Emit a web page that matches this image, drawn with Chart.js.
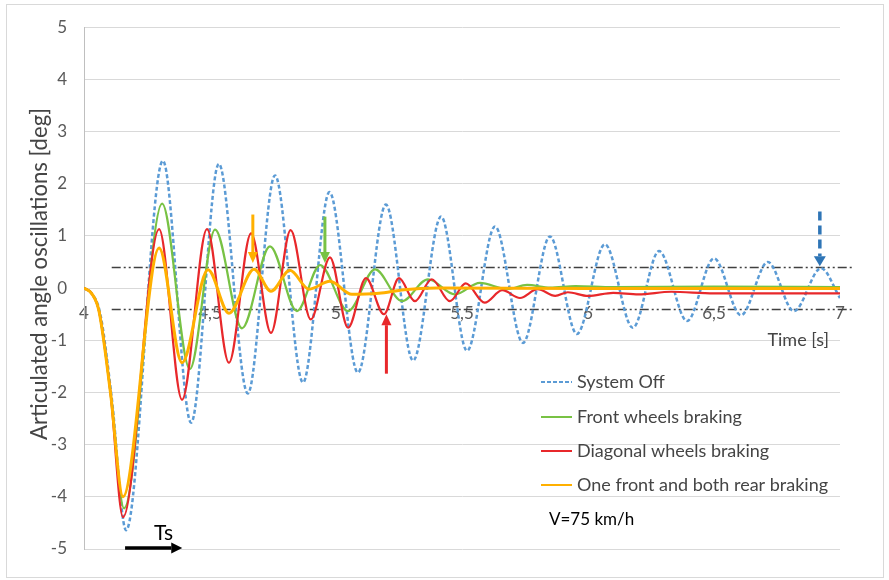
<!DOCTYPE html>
<html><head><meta charset="utf-8">
<script src="https://cdn.jsdelivr.net/npm/chart.js@4.4.0/dist/chart.umd.min.js"></script>
<style>html,body{margin:0;padding:0;background:#fff;}canvas{display:block}</style>
</head><body>
<canvas id="c" width="889" height="580"></canvas>
<script>
// ---- Data ----
const seriesLabels = ['System Off', 'Front wheels braking', 'Diagonal wheels braking', 'One front and both rear braking'];

const timeSystemOff  = [4, 4.03, 4.065, 4.11, 4.167, 4.313, 4.425, 4.535, 4.65, 4.758, 4.869, 4.974, 5.087, 5.198, 5.306, 5.417, 5.52, 5.631, 5.742, 5.849, 5.956, 6.067, 6.178, 6.282, 6.393, 6.5, 6.607, 6.714, 6.817, 6.925, 7.0];
const angleSystemOff = [0, -0.1, -0.5, -2.1, -4.64, 2.44, -2.58, 2.38, -2.02, 2.16, -1.81, 1.84, -1.62, 1.60, -1.39, 1.37, -1.20, 1.18, -1.05, 0.99, -0.88, 0.84, -0.76, 0.71, -0.63, 0.57, -0.52, 0.50, -0.44, 0.38, -0.19];

const timeFront  = [4, 4.03, 4.06, 4.105, 4.159, 4.31, 4.42, 4.52, 4.627, 4.738, 4.845, 4.937, 5.048, 5.155, 5.262, 5.365, 5.472, 5.571, 5.68, 5.758, 5.85, 5.95, 6.1, 6.5, 7.0];
const angleFront = [0, -0.1, -0.45, -2.0, -4.22, 1.62, -1.55, 1.12, -0.77, 0.80, -0.44, 0.44, -0.44, 0.36, -0.25, 0.17, -0.12, 0.10, -0.02, 0.06, 0.01, 0.04, 0.02, 0.03, 0.02];

const timeDiagonal  = [4, 4.03, 4.06, 4.105, 4.155, 4.298, 4.389, 4.488, 4.575, 4.663, 4.742, 4.82, 4.9, 4.976, 5.048, 5.119, 5.19, 5.25, 5.313, 5.38, 5.452, 5.515, 5.59, 5.66, 5.73, 5.80, 5.87, 5.92, 6.0, 6.1, 6.2, 6.33, 6.5, 7.0];
const angleDiagonal = [0, -0.1, -0.45, -2.0, -4.39, 1.13, -2.14, 1.13, -1.43, 1.05, -0.86, 1.11, -0.6, 0.59, -0.76, 0.19, -0.50, 0.19, -0.25, 0.17, -0.25, 0.09, -0.28, -0.04, -0.19, -0.02, -0.15, -0.08, -0.15, -0.09, -0.12, -0.07, -0.10, -0.10];

const timeOneFront  = [4, 4.03, 4.06, 4.105, 4.155, 4.298, 4.389, 4.492, 4.575, 4.675, 4.742, 4.817, 4.893, 4.976, 5.063, 5.17, 5.27, 5.4, 6.0, 7.0];
const angleOneFront = [0, -0.1, -0.45, -2.0, -4.0, 0.77, -1.43, 0.35, -0.48, 0.36, -0.06, 0.34, -0.02, 0.13, -0.12, -0.10, -0.03, 0.0, -0.01, -0.01];

const xTicks = [4, 4.5, 5, 5.5, 6, 6.5, 7];
const yTicks = [-5, -4, -3, -2, -1, 0, 1, 2, 3, 4, 5];

// threshold band (dash-dot lines)
const bandLevels = [0.4, -0.4];
const bandStart = 4.11, bandEnd = 7.05;

// marker arrows: x, from y, to y
const arrowX    = [4.67, 4.956, 5.20, 6.92];
const arrowFrom = [1.41, 1.37, -1.64, 1.47];
const arrowTo   = [0.48, 0.48, -0.50, 0.42];

// Ts arrow
const tsStart = 4.163, tsEnd = 4.39, tsLevel = -4.98;

// ---- styles ----
const colors = ['#5B9BD5', '#78C244', '#E8282B', '#FFB000'];
const arrowColors = ['#FFB000', '#78C244', '#E8282B', '#2E75B6'];
const FONT = 'Lato, "Open Sans", sans-serif';
const GREY = '#595959';
const TEXT = '#454545';

function mk(i, t, v, width, dash, order) {
  return {
    label: seriesLabels[i],
    data: t.map((x, k) => ({x: x, y: v[k]})),
    borderColor: colors[i], backgroundColor: colors[i],
    borderWidth: width, borderDash: dash, pointRadius: 0,
    cubicInterpolationMode: 'monotone', fill: false, order: order
  };
}

function arrow(ctx, x1, y1, x2, y2, color, width, headL, headW, dash) {
  const a = Math.atan2(y2 - y1, x2 - x1);
  const bx = x2 - headL * Math.cos(a), by = y2 - headL * Math.sin(a);
  ctx.save();
  ctx.strokeStyle = color; ctx.fillStyle = color; ctx.lineWidth = width;
  ctx.setLineDash(dash || []);
  ctx.beginPath(); ctx.moveTo(x1, y1); ctx.lineTo(bx, by); ctx.stroke();
  ctx.setLineDash([]);
  ctx.beginPath();
  ctx.moveTo(x2, y2);
  ctx.lineTo(bx + headW / 2 * Math.sin(a), by - headW / 2 * Math.cos(a));
  ctx.lineTo(bx - headW / 2 * Math.sin(a), by + headW / 2 * Math.cos(a));
  ctx.closePath(); ctx.fill();
  ctx.restore();
}

const extras = {
  id: 'extras',
  beforeDraw(chart) {
    const ctx = chart.ctx;
    ctx.save();
    ctx.strokeStyle = '#D9D9D9'; ctx.lineWidth = 1;
    ctx.strokeRect(6.5, 4.5, 877, 573);
    ctx.restore();
  },
  beforeDatasetsDraw(chart) {
    const ctx = chart.ctx, xs = chart.scales.x, ys = chart.scales.y;
    ctx.save();
    ctx.strokeStyle = '#404040'; ctx.lineWidth = 1.5;
    ctx.setLineDash([9, 3, 2, 3, 2, 3]);
    bandLevels.forEach(l => {
      const py = Math.round(ys.getPixelForValue(l)) + 0.5;
      ctx.beginPath();
      ctx.moveTo(xs.getPixelForValue(bandStart), py);
      ctx.lineTo(xs.getPixelForValue(bandEnd), py);
      ctx.stroke();
    });
    ctx.restore();
  },
  afterDraw(chart) {
    const ctx = chart.ctx, xs = chart.scales.x, ys = chart.scales.y;
    arrowX.forEach((x, i) => {
      const px = xs.getPixelForValue(x);
      const dashed = i === 3;
      arrow(ctx, px, ys.getPixelForValue(arrowFrom[i]), px, ys.getPixelForValue(arrowTo[i]),
        arrowColors[i], dashed ? 3.5 : 3, dashed ? 10 : 11, dashed ? 12 : 10, dashed ? [9, 5] : null);
    });
    const tsy = ys.getPixelForValue(tsLevel);
    arrow(ctx, xs.getPixelForValue(tsStart), tsy, xs.getPixelForValue(tsEnd), tsy, '#000', 3.5, 11, 11);
    ctx.save();
    ctx.fillStyle = '#000'; ctx.font = '21px ' + FONT; ctx.textBaseline = 'alphabetic'; ctx.textAlign = 'left';
    ctx.fillText('Ts', 154, 540);
    // y-axis title, sized to the reference span
    const title = 'Articulated angle oscillations [deg]';
    ctx.font = '18px ' + FONT;
    const w = ctx.measureText(title).width;
    const fs = 18 * 332 / w;
    ctx.fillStyle = TEXT; ctx.font = fs.toFixed(2) + 'px ' + FONT;
    ctx.translate(40, 274); ctx.rotate(-Math.PI / 2);
    ctx.textAlign = 'center'; ctx.textBaseline = 'middle';
    ctx.fillText(title, 0, 0);
    ctx.restore();
    ctx.save();
    ctx.fillStyle = TEXT; ctx.font = '18px ' + FONT; ctx.textAlign = 'right'; ctx.textBaseline = 'middle';
    ctx.fillText('Time [s]', 829, 340);
    const rows = [382, 417, 451, 485];
    ctx.font = '18px ' + FONT; ctx.textAlign = 'left';
    chart.data.datasets.forEach((d, i) => {
      ctx.save();
      ctx.strokeStyle = d.borderColor; ctx.lineWidth = 2;
      ctx.setLineDash(i === 0 ? [4, 2] : []);
      ctx.beginPath(); ctx.moveTo(541, rows[i]); ctx.lineTo(572, rows[i]); ctx.stroke();
      ctx.restore();
      ctx.fillStyle = TEXT;
      ctx.fillText(d.label, 577, rows[i]);
    });
    ctx.fillStyle = '#000'; ctx.font = '17px ' + FONT;
    ctx.fillText('V=75 km/h', 549, 520);
    ctx.restore();
  }
};

new Chart(document.getElementById('c'), {
  type: 'line',
  data: {
    datasets: [
      mk(0, timeSystemOff, angleSystemOff, 2.5, [4, 2.5], 4),
      mk(1, timeFront, angleFront, 2.2, [], 3),
      mk(2, timeDiagonal, angleDiagonal, 2.2, [], 2),
      mk(3, timeOneFront, angleOneFront, 3, [], 1)
    ]
  },
  options: {
    responsive: false, animation: false,
    layout: {padding: {left: 0, top: 25, right: 49, bottom: 31}},
    plugins: {legend: {display: false}, tooltip: {enabled: false}},
    scales: {
      x: {
        type: 'linear', min: 4, max: 7, position: {y: 0},
        afterBuildTicks: s => { s.ticks = xTicks.map(v => ({value: v})); },
        ticks: {
          callback: v => String(v).replace('.', ','),
          color: GREY, font: {family: FONT, size: 17}, padding: 15,
          maxRotation: 0, autoSkip: false
        },
        grid: {display: false, drawTicks: false},
        border: {display: false}
      },
      y: {
        min: -5, max: 5,
        afterBuildTicks: s => { s.ticks = yTicks.map(v => ({value: v})); },
        afterFit: s => { s.width = 84; },
        ticks: {color: GREY, font: {family: FONT, size: 17}, padding: 17},
        grid: {color: '#D9D9D9', lineWidth: 1, drawTicks: false},
        border: {color: '#BFBFBF', width: 1}
      }
    }
  },
  plugins: [extras]
});
</script>
</body></html>
